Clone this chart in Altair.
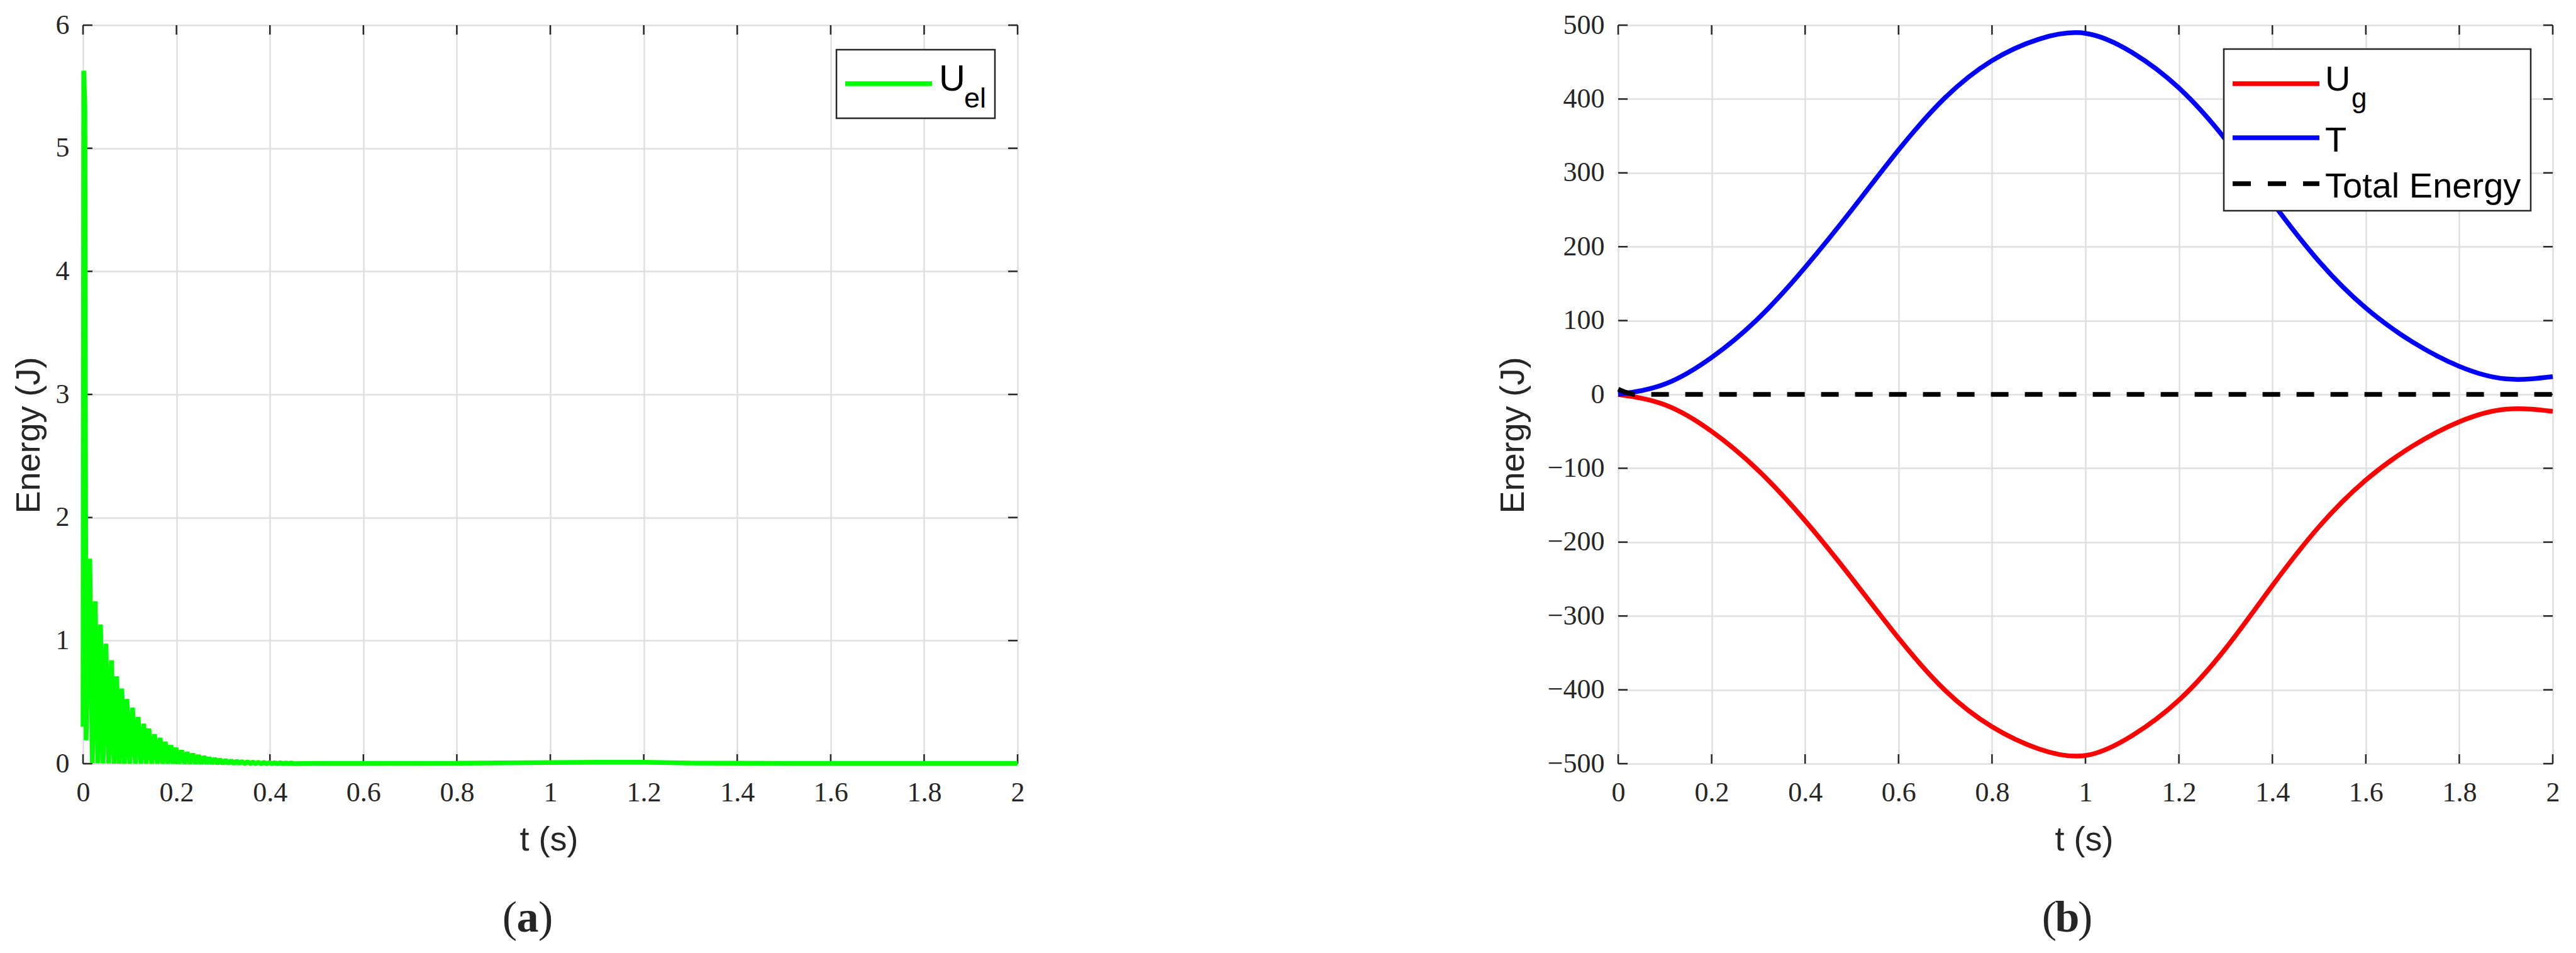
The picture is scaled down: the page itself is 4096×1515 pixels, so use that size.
import altair as alt
import pandas as pd

# ---------------- data ----------------
# panel (a): elastic energy U_el (peaks and troughs of the oscillation)
el_peak_t = [0.0015, 0.004, 0.0145, 0.026, 0.0375, 0.049, 0.061, 0.072, 0.083, 0.094,
             0.106, 0.118, 0.130, 0.141, 0.153, 0.165, 0.176, 0.188, 0.199, 0.211,
             0.223, 0.235, 0.247, 0.259, 0.270, 0.282, 0.293, 0.305, 0.317, 0.329,
             0.340, 0.352, 0.364, 0.375, 0.387, 0.399, 0.410, 0.422, 0.434, 0.446]
el_peak_v = [5.63, 5.32, 1.665, 1.32, 1.13, 0.975, 0.84, 0.71, 0.61, 0.525,
             0.455, 0.38, 0.325, 0.285, 0.24, 0.21, 0.178, 0.15, 0.13, 0.108,
             0.094, 0.082, 0.069, 0.06, 0.05, 0.043, 0.036, 0.03, 0.026, 0.022,
             0.019, 0.016, 0.014, 0.012, 0.010, 0.009, 0.008, 0.007, 0.006, 0.005]
el_trough_t = [0.0, 0.0065, 0.020, 0.032, 0.043, 0.055, 0.0665, 0.0775, 0.0885, 0.100,
               0.112, 0.124, 0.1355, 0.147, 0.159, 0.1705, 0.182, 0.1935, 0.205, 0.217,
               0.229, 0.241, 0.253, 0.2645, 0.276, 0.2875, 0.299, 0.311, 0.323, 0.3345,
               0.346, 0.358, 0.3695, 0.381, 0.393, 0.4045, 0.416, 0.428, 0.440, 0.452]
el_trough_v = [0.3, 0.19, 0.004, 0.003, 0.002, 0.002, 0.001, 0.001, 0.0, 0.0,
               0.0, 0.0, 0.0, 0.0, 0.0, 0.0, 0.0, 0.0, 0.0, 0.0,
               0.0, 0.0, 0.0, 0.0, 0.0, 0.0, 0.0, 0.0, 0.0, 0.0,
               0.0, 0.0, 0.0, 0.0, 0.0, 0.0, 0.0, 0.0, 0.0, 0.0]
el_tail_t = [0.5, 0.6, 0.8, 0.95, 1.1, 1.2, 1.3, 1.5, 1.8, 2.0]
el_tail_v = [0.003, 0.002, 0.004, 0.008, 0.012, 0.012, 0.005, 0.002, 0.002, 0.002]

# panel (b): gravitational potential, kinetic and total energy
b_t = [0.0, 0.1, 0.2, 0.3, 0.4, 0.5, 0.6, 0.7, 0.8, 0.9, 1.0,
       1.1, 1.2, 1.3, 1.4, 1.5, 1.6, 1.7, 1.8, 1.9, 2.0]
T_v = [0, 14, 50, 103, 172, 250, 331, 402, 452, 481, 489,
       463, 415, 345, 260, 180, 117, 71, 38, 21, 24]
Ug_v = [0, -14, -50, -103, -171, -249, -330, -401, -450, -480, -489,
        -462, -414, -344, -259, -179, -116, -70, -37, -20, -23]
E_t = [0.0, 0.015, 0.035, 2.0]
E_v = [7, 3, 0, 0]

x_ticks = [0, 0.2, 0.4, 0.6, 0.8, 1, 1.2, 1.4, 1.6, 1.8, 2]
ya_ticks = [0, 1, 2, 3, 4, 5, 6]
yb_ticks = [-500, -400, -300, -200, -100, 0, 100, 200, 300, 400, 500]

# ---------------- styling ----------------
W, H = 1486, 1174
AX = "#262626"
GRID = "#DFDFDF"
SERIF = "Liberation Serif"
SANS = "Liberation Sans"
LW = 7.5
TICK = 15

rows = sorted(list(zip(el_peak_t, el_peak_v)) + list(zip(el_trough_t, el_trough_v))
              + list(zip(el_tail_t, el_tail_v)))
df_a = pd.DataFrame(rows, columns=["t", "v"])
df_T = pd.DataFrame({"t": b_t, "v": T_v})
df_U = pd.DataFrame({"t": b_t, "v": Ug_v})
df_E = pd.DataFrame({"t": E_t, "v": E_v})
df_xt = pd.DataFrame({"t": x_ticks})
one = pd.DataFrame({"k": [0]})


def make_axis(vals, fmt, pad):
    return alt.Axis(values=vals, format=fmt, grid=True, gridColor=GRID, gridWidth=2.5,
                    ticks=False, tickSize=0, domain=False, title=None,
                    labelFont=SERIF, labelFontSize=44, labelColor=AX,
                    labelPadding=pad, labelFlush=False, labelOverlap=False)


def panel(df_lines, y_dom, y_vals, y_fmt, legend_layers, tag_x, tag):
    sx = alt.Scale(domain=[0, 2], nice=False, zero=False)
    sy = alt.Scale(domain=y_dom, nice=False, zero=False)
    ax_x = make_axis(x_ticks, "~g", 24)
    ax_y = make_axis(y_vals, y_fmt, 22)
    X = lambda f: alt.X(f, type="quantitative", scale=sx, axis=ax_x)
    Y = lambda f: alt.Y(f, type="quantitative", scale=sy, axis=ax_y)
    df_yt = pd.DataFrame({"v": y_vals})

    grid = alt.Chart(df_xt).mark_rule(opacity=0).encode(x=X("t"))
    gridy = alt.Chart(df_yt).mark_rule(opacity=0).encode(y=Y("v"))
    tb = alt.Chart(df_xt).mark_rule(color=AX, strokeWidth=2.5).encode(
        x=X("t"), y=alt.value(H - TICK), y2=alt.value(H))
    tt = alt.Chart(df_xt).mark_rule(color=AX, strokeWidth=2.5).encode(
        x=X("t"), y=alt.value(0), y2=alt.value(TICK))
    tl = alt.Chart(df_yt).mark_rule(color=AX, strokeWidth=2.5).encode(
        y=Y("v"), x=alt.value(0), x2=alt.value(TICK))
    tr = alt.Chart(df_yt).mark_rule(color=AX, strokeWidth=2.5).encode(
        y=Y("v"), x=alt.value(W - TICK), x2=alt.value(W))

    lines = []
    for d, col, dash, interp in df_lines:
        kw = dict(color=col, strokeWidth=LW, strokeJoin="bevel", interpolate=interp)
        if dash:
            kw["strokeDash"] = [28, 26]
            kw["strokeCap"] = "butt"
        lines.append(alt.Chart(d).mark_line(**kw).encode(x=X("t"), y=Y("v")))

    ytitle = alt.Chart(one).mark_text(text="Energy (J)", angle=270, font=SANS, fontSize=54,
                                      color=AX, align="center", baseline="alphabetic").encode(
        x=alt.value(tag["ytx"]), y=alt.value(652))
    xtitle = alt.Chart(one).mark_text(text="t (s)", font=SANS, fontSize=54, color=AX,
                                      align="center", baseline="alphabetic").encode(
        x=alt.value(W / 2 - 2), y=alt.value(H + 138))
    p1 = alt.Chart(one).mark_text(text="(", font=SERIF, fontSize=70, color=AX,
                                  align="right", baseline="alphabetic").encode(
        x=alt.value(tag_x - 17), y=alt.value(H + 267))
    p2 = alt.Chart(one).mark_text(text=tag["letter"], font=SERIF, fontSize=70, fontWeight="bold",
                                  color=AX, align="center", baseline="alphabetic").encode(
        x=alt.value(tag_x), y=alt.value(H + 267))
    p3 = alt.Chart(one).mark_text(text=")", font=SERIF, fontSize=70, color=AX,
                                  align="left", baseline="alphabetic").encode(
        x=alt.value(tag_x + 17), y=alt.value(H + 267))

    return alt.layer(grid, gridy, tb, tt, tl, tr, *lines, *legend_layers,
                     ytitle, xtitle, p1, p2, p3).properties(width=W, height=H)


def txt(s, x, y, size, col="black"):
    return alt.Chart(one).mark_text(text=s, font=SANS, fontSize=size, color=col,
                                    align="left", baseline="alphabetic").encode(
        x=alt.value(x), y=alt.value(y))


def box(x1, x2, y1, y2):
    return alt.Chart(one).mark_rect(fill="white", stroke=AX, strokeWidth=2.5).encode(
        x=alt.value(x1), x2=alt.value(x2), y=alt.value(y1), y2=alt.value(y2))


def sample(x1, x2, y, col, dash=False):
    kw = dict(color=col, strokeWidth=LW)
    if dash:
        kw["strokeDash"] = [29, 27]
        kw["strokeCap"] = "butt"
    return alt.Chart(one).mark_rule(**kw).encode(x=alt.value(x1), x2=alt.value(x2), y=alt.value(y))


leg_a = [box(1198, 1450, 39, 148), sample(1212, 1350, 93, "#00FF00"),
         txt("U", 1361, 104, 58), txt("el", 1401, 131, 45)]
leg_b = [box(963, 1451, 38, 295), sample(977, 1115, 93, "#FF0000"),
         sample(977, 1115, 179, "#0000FF"), sample(977, 1115, 252, "black", dash=True),
         txt("U", 1124, 104, 56), txt("g", 1166, 131, 44),
         txt("T", 1124, 201, 56), txt("Total Energy", 1124, 274, 56)]

chart_a = panel([(df_a, "#00FF00", False, "linear")], [0, 6], ya_ticks, "~g", leg_a, 707,
                {"ytx": -69, "letter": "a"})
chart_b = panel([(df_U, "#FF0000", False, "natural"), (df_T, "#0000FF", False, "natural"),
                 (df_E, "black", True, "linear")],
                [-500, 500], yb_ticks, "d", leg_b, 714, {"ytx": -150, "letter": "b"})

chart = alt.hconcat(chart_a, chart_b, spacing=955, bounds="flush").properties(
    padding={"left": 11, "top": 9, "right": 5, "bottom": 5}
).configure_view(stroke=AX, strokeWidth=2.5).configure(background="white")

chart.save("out.html", embed_options={"renderer": "svg", "actions": False})
